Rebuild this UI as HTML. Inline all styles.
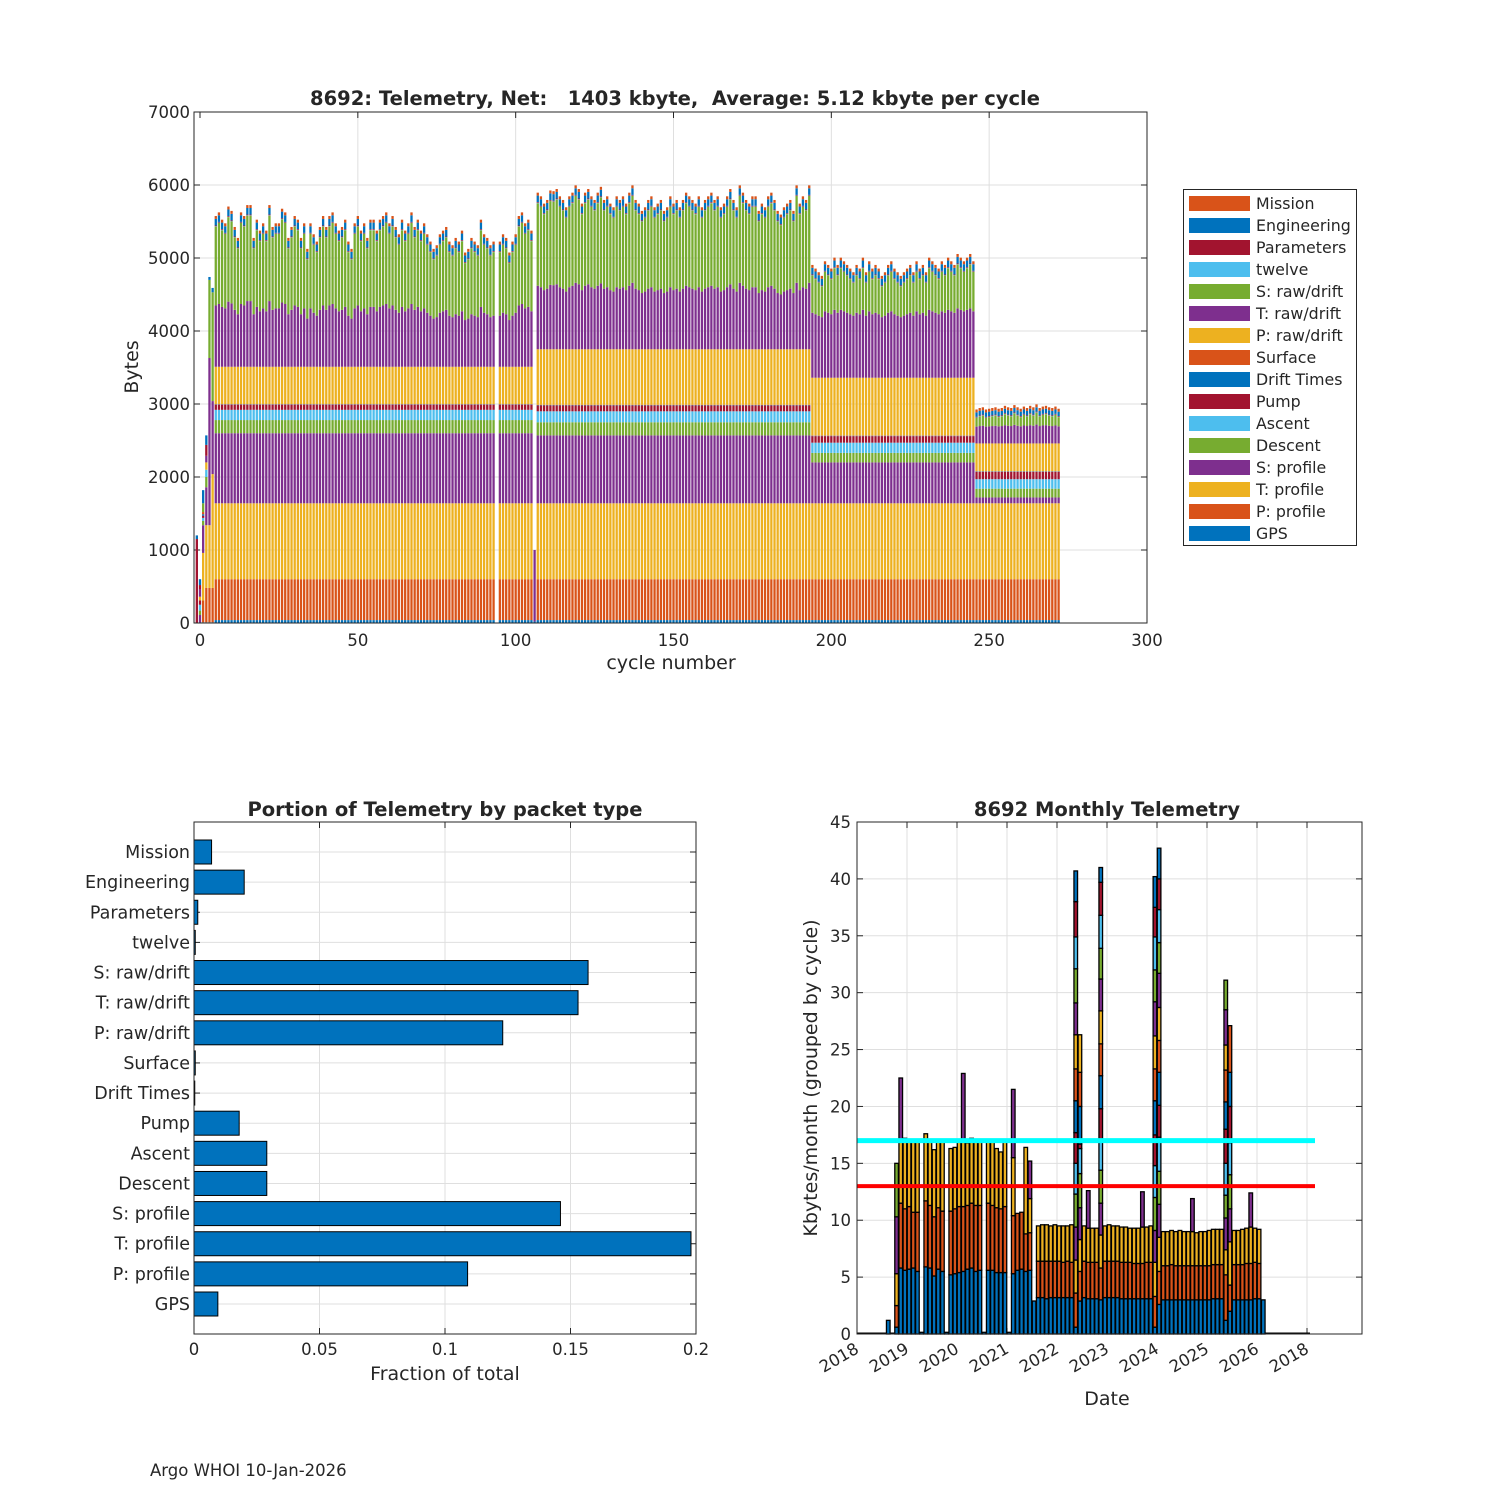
<!DOCTYPE html>
<html><head><meta charset="utf-8"><style>
html,body{margin:0;padding:0;background:#fff}
svg text{font-family:"DejaVu Sans","Liberation Sans",sans-serif;fill:#262626}
</style></head><body>
<svg id="s" width="1500" height="1500" viewBox="0 0 1500 1500" xmlns="http://www.w3.org/2000/svg">
<rect width="1500" height="1500" fill="#fff"/>
<g id="top"></g>
<g id="bl"></g>
<g id="br"></g>
<text x="150" y="1476" font-size="16.5">Argo WHOI 10-Jan-2026</text>
</svg>
<script>
// ---------- DATA ----------
const layerNames = ["GPS","P: profile","T: profile","S: profile","Descent","Ascent","Pump","Drift Times","Surface","P: raw/drift","T: raw/drift","S: raw/drift","twelve","Parameters","Engineering","Mission"];
const phaseStart = [5,107,194,246];
const phaseEnd = [106,193,245,272];
const phase1 = [40,560,1040,960,180,140,70,5,5,510,880,1140,5,10,90,40];
const phase2 = [40,560,1040,930,180,150,80,5,5,760,870,1130,5,10,90,40];
const phase3 = [40,560,1040,560,130,140,90,5,5,790,950,600,5,10,90,40];
const phase4 = [40,560,1040,80,120,130,100,5,5,380,250,150,5,10,60,40];
const earlyCycles = [-1,0,1,2,3,4];
const earlyStacks = [
 [0,0,0,0,0,0,0,0,0,0,0,0,0,1150,50,0],
 [10,0,0,100,60,80,60,0,0,50,100,0,0,60,80,0],
 [10,300,650,380,60,40,30,20,30,0,0,120,0,0,180,0],
 [10,470,860,520,140,100,0,0,0,100,90,0,0,150,130,0],
 [10,470,860,2290,0,0,0,0,0,0,0,1070,0,0,40,0],
 [10,470,1560,1000,0,0,0,0,0,0,0,1490,0,0,60,0]
];
const missingCycles = [94];
const specialCycle = 106;
const specialStack = [20,0,0,980,0,0,0,0,0,0,0,0,0,0,0,0];
// deviation of S/T raw per cycle (tens of bytes), cycles 5..272
const dev = [
-10,-5,-15,-20,3,-3,-25,-40,-5,-10,5,5,-40,-15,-30,-20,-30,5,-25,-20,
-20,0,-5,-40,-25,-10,-15,-40,-20,-55,-20,-35,-45,-25,-10,-25,-10,-5,-20,-30,
-25,-15,-45,-55,-20,-10,-30,-20,-40,-15,-15,-30,-15,-10,-5,-20,-10,-25,-35,-15,
-30,-20,-5,-25,-15,-30,-20,-35,-45,-55,-50,-35,-30,-25,-45,-50,-40,-45,-30,-60,
-55,-40,-45,-50,-15,-35,-40,-50,-45,0,-45,-35,-40,-60,-45,-35,-10,-5,-20,-15,
-30,0,
0,-5,-15,-10,3,2,5,-5,-10,-20,-5,0,10,5,-15,0,5,-5,-10,0,
8,-10,-5,-15,-20,-5,-10,-5,-15,0,10,-10,-15,-25,-20,-10,-5,-20,-15,-10,
-25,-20,-5,-15,-10,-20,-10,0,-5,-10,-15,-5,-20,-10,-5,0,-10,-5,-20,-15,
-5,5,-10,-20,10,0,-10,-15,-5,-5,-25,-15,-20,-5,0,-10,-25,-30,-20,-15,
-10,-25,10,-15,-5,-10,10,
-15,-20,-25,-30,-10,-15,-20,-5,-15,-5,-10,-15,-20,-25,-15,-20,-5,-25,-10,-20,
-15,-20,-30,-25,-15,-10,-20,-25,-30,-25,-20,-15,-25,-10,-20,-15,-25,-5,-10,-15,
-20,-10,-15,-5,-10,-15,0,-5,-10,-5,0,-10,
-5,-3,-2,-5,-4,-3,-2,-4,-3,0,-2,-3,1,-2,-4,-1,-3,0,-2,2,-3,-1,0,-2,-3,-1,-4];
const topYTicks = [0,1000,2000,3000,4000,5000,6000,7000];
const topXTicks = [0,50,100,150,200,250,300];

const fracCats = ["Mission","Engineering","Parameters","twelve","S: raw/drift","T: raw/drift","P: raw/drift","Surface","Drift Times","Pump","Ascent","Descent","S: profile","T: profile","P: profile","GPS"];
const fracVals = [0.007,0.020,0.0015,0.0005,0.157,0.153,0.123,0.0005,0.0003,0.018,0.029,0.029,0.146,0.198,0.109,0.0095];
const fracTicks = [0,0.05,0.1,0.15,0.2];
const fracTickLabels = ["0","0.05","0.1","0.15","0.2"];

const monthIdx = [];
const monthSegs = [];
const monthList = [
 [7,[1.2]],[9,[0.6,1.9,2.8,5.0,4.7]],[10,[5.8,5.7,5.5,5.5]],[11,[5.6,5.4,6.2]],[12,[5.7,5.5,5.8]],[13,[5.8,4.9,6.3]],[14,[5.5,5.2,6.3]],[15,[0.15]],
 [16,[5.9,5.8,5.9]],[17,[5.8,5.5,5.7]],[18,[5.1,5.2,5.9]],[19,[5.7,5.4,5.9]],[20,[5.5,5.3,6.2]],[21,[0.15]],
 [22,[5.2,5.6,5.5]],[23,[5.3,5.7,5.4]],[24,[5.4,5.8,5.8]],[25,[5.5,5.7,5.8,5.9]],[26,[5.7,5.6,5.5]],[27,[5.8,5.7,5.7]],[28,[5.5,5.8,5.7]],[29,[5.6,5.7,5.7]],[30,[0.15]],
 [31,[5.6,5.9,5.5]],[32,[5.6,5.7,5.7]],[33,[5.4,5.7,5.2]],[34,[5.4,5.6,5.0]],[35,[5.4,5.8,5.8]],[36,[0.15]],
 [37,[5.3,5.1,5.1,6.0]],[38,[5.6,5.0]],[39,[5.7,5.0]],[40,[5.5,3.3,7.6]],[41,[5.6,3.3,3.0,3.3]],[42,[2.9]],
 [43,[3.2,3.2,3.1]],[44,[3.2,3.2,3.2]],[45,[3.1,3.3,3.2]],[46,[3.2,3.2,3.1]],[47,[3.2,3.2,3.2]],[48,[3.2,3.2,3.1]],[49,[3.2,3.1,3.2]],[50,[3.2,3.2,3.1]],[51,[3.2,3.1,3.3]],
 [52,[0.6,3.0,2.9,2.9,2.9,2.7,2.7,2.8,2.8,3.0,2.8,3.0,2.8,3.1,2.7]],
 [53,[2.9,2.6,2.8,2.8,3.0,2.2,0.4,3.3,3.0,3.3]],
 [54,[3.2,3.2,3.1]],[55,[3.1,3.2,3.0,3.3]],[56,[3.1,3.2,3.0]],[57,[3.1,3.2,3.0]],
 [58,[3.0,2.8,2.9,2.8,2.9,2.7,2.7,2.9,2.8,2.9,2.8,2.7,2.9,2.9,1.3]],
 [59,[3.2,3.2,3.1]],[60,[3.2,3.2,3.2]],[61,[3.2,3.2,3.1]],[62,[3.2,3.2,3.1]],[63,[3.1,3.2,3.1]],[64,[3.1,3.2,3.1]],[65,[3.1,3.2,3.0]],[66,[3.1,3.1,3.1]],[67,[3.1,3.1,3.1]],
 [68,[3.1,3.1,3.2,3.1]],[69,[3.1,3.2,3.1]],[70,[3.1,3.2,3.2]],
 [71,[0.6,2.7,3.0,2.8,2.9,2.8,2.7,3.0,2.8,2.9,3.0,2.8,2.9,2.6,2.7]],
 [72,[2.6,2.9,3.0,2.9,2.9,3.0,2.8,2.9,2.8,2.9,3.0,2.7,2.9,2.7,2.7]],
 [73,[3.0,3.0,3.0]],[74,[3.0,3.0,3.0]],[75,[3.0,3.1,3.0]],[76,[3.0,3.0,3.0]],[77,[3.0,3.0,3.1]],[78,[3.0,3.0,3.0]],[79,[3.0,3.0,3.0]],[80,[3.0,3.0,3.0,2.9]],
 [81,[3.0,3.0,2.9]],[82,[3.0,3.0,3.0]],[83,[3.0,3.0,3.0]],[84,[3.0,3.0,3.1]],[85,[3.1,3.0,3.1]],[86,[3.1,3.0,3.1]],[87,[3.1,3.0,3.1]],
 [88,[1.2,4.0,2.2,2.8,2.0,2.8,3.0,2.4,2.8,2.2,3.1,2.6]],
 [89,[2.0,2.3,3.8,2.9,3.0,2.8,3.2,3.0,4.1]],
 [90,[3.0,3.1,3.0]],[91,[3.0,3.1,3.0]],[92,[3.0,3.1,3.1]],[93,[3.0,3.2,3.1]],[94,[3.0,3.2,3.2,3.0]],[95,[3.1,3.2,3.0]],[96,[3.1,3.1,3.0]],[97,[3.0]]
];
monthList.forEach(m=>{monthIdx.push(m[0]);monthSegs.push(m[1]);});
const monthYTicks = [0,5,10,15,20,25,30,35,40,45];
const yearTickLabels = ["2018","2019","2020","2021","2022","2023","2024","2025","2026","2018"];
const cyanLevel = 17, redLevel = 13;

// ---------- HELPERS ----------
const NS="http://www.w3.org/2000/svg";
const C=["#0072BD","#D95319","#EDB120","#7E2F8E","#77AC30","#4DBEEE","#A2142F"];
const TICK=16.5, LAB=19, TTL=19.5;
function mk(parent,tag,attrs,text){const e=document.createElementNS(NS,tag);for(const k in attrs)e.setAttribute(k,attrs[k]);if(text!==undefined)e.textContent=text;parent.appendChild(e);return e;}
function axesFrame(g,x0,y0,x1,y1){
  const r=mk(g,'rect',{x:x0,y:y0,width:x1-x0,height:y1-y0,fill:'none',stroke:'#262626','stroke-width':1});
  
  
}

// ---------- TOP CHART ----------
(function(){
  const g=document.getElementById('top');
  const L=194,R=1147,T=112,B=623;
  const sx=c=>200+c*(R-200)/300;
  const sy=v=>B-v*(B-T)/7000;
  topYTicks.forEach(t=>{
    const y=sy(t);
    if(t>0&&t<7000){const l=mk(g,'line',{x1:L,x2:R,y1:y,y2:y,stroke:'#dfdfdf','stroke-width':1});}
    const tx=mk(g,'text',{x:L-4,y:y+6,'font-size':TICK,'text-anchor':'end'},String(t));
    
    mk(g,'line',{x1:L,x2:L+6,y1:y,y2:y,stroke:'#262626'});mk(g,'line',{x1:R,x2:R-6,y1:y,y2:y,stroke:'#262626'});
  });
  topXTicks.forEach(t=>{
    const x=sx(t);
    if(t>0&&t<300){const l=mk(g,'line',{x1:x,x2:x,y1:T,y2:B,stroke:'#dfdfdf','stroke-width':1});}
    const tx=mk(g,'text',{x:x,y:B+23,'font-size':TICK,'text-anchor':'middle'},String(t));
    
    mk(g,'line',{x1:x,x2:x,y1:B,y2:B-6,stroke:'#262626'});mk(g,'line',{x1:x,x2:x,y1:T,y2:T+6,stroke:'#262626'});
  });
  const bw=2.3;
  const cycles=[],stacks=[];
  earlyCycles.forEach((c,i)=>{cycles.push(c);stacks.push(earlyStacks[i]);});
  const bases=[phase1,phase2,phase3,phase4];
  for(let c=5;c<=272;c++){
    if(missingCycles.includes(c))continue;
    if(c===specialCycle){cycles.push(c);stacks.push(specialStack);continue;}
    let p=0;for(let k=0;k<4;k++)if(c>=phaseStart[k]&&c<=phaseEnd[k])p=k;
    const s=bases[p].slice();const d=dev[c-5]||0;
    s[10]+=d*4;s[11]+=d*6;
    cycles.push(c);stacks.push(s);
  }
  cycles.forEach((c,i)=>{
    let acc=0;const x=sx(c)-bw/2;
    const bg=mk(g,'g',{});
    
    
    stacks[i].forEach((v,j)=>{
      if(v<=0)return;
      const y1=sy(acc+v),y0=sy(acc);
      mk(bg,'rect',{x:x,y:y1,width:bw,height:Math.max(0,y0-y1),fill:C[j%7]});
      acc+=v;
    });
  });
  axesFrame(g,L,T,R,B);
  const tt=mk(g,'text',{x:675,y:105,'font-size':TTL,'font-weight':'bold','text-anchor':'middle','xml:space':'preserve',style:'white-space:pre'},'8692: Telemetry, Net:   1403 kbyte,  Average: 5.12 kbyte per cycle');
  
  const yl=mk(g,'text',{x:0,y:0,'font-size':LAB,'text-anchor':'middle',transform:'translate(138,367) rotate(-90)'},'Bytes');
  
  const xl=mk(g,'text',{x:671,y:669,'font-size':LAB,'text-anchor':'middle'},'cycle number');
  
  // legend
  const lg=mk(g,'g',{});
  
  mk(lg,'rect',{x:1183.5,y:189.5,width:173,height:356,fill:'#fff',stroke:'#262626'});
  const order=layerNames.slice().reverse();
  order.forEach((n,i)=>{
    const j=layerNames.indexOf(n);
    const e=mk(lg,'g',{});
    
    
    const y=196+i*22;
    mk(e,'rect',{x:1189,y:y,width:61,height:15,fill:C[j%7]});
    mk(e,'text',{x:1256,y:y+13,'font-size':15.8},n);
  });
})();

// ---------- BOTTOM LEFT ----------
(function(){
  const g=document.getElementById('bl');
  const L=194,R=696,T=822,B=1334;
  const sx=v=>L+v*(R-L)/0.2;
  const step=(1304-852)/15;
  const sy=i=>852+i*step;
  fracTicks.forEach((t,i)=>{
    const x=sx(t);
    if(i>0&&i<fracTicks.length-1){const l=mk(g,'line',{x1:x,x2:x,y1:T,y2:B,stroke:'#dfdfdf'});}
    const tx=mk(g,'text',{x:x,y:B+21,'font-size':TICK,'text-anchor':'middle'},fracTickLabels[i]);
    
    mk(g,'line',{x1:x,x2:x,y1:B,y2:B-6,stroke:'#262626'});mk(g,'line',{x1:x,x2:x,y1:T,y2:T+6,stroke:'#262626'});
  });
  fracCats.forEach((c,i)=>{
    const y=sy(i);
    const l=mk(g,'line',{x1:L,x2:R,y1:y,y2:y,stroke:'#dfdfdf'});
    mk(g,'line',{x1:L,x2:L+6,y1:y,y2:y,stroke:'#262626'});mk(g,'line',{x1:R,x2:R-6,y1:y,y2:y,stroke:'#262626'});
    const tx=mk(g,'text',{x:L-4,y:y+6,'font-size':17.5,'text-anchor':'end'},c);
    
  });
  fracCats.forEach((c,i)=>{
    const y=sy(i);
    const b=mk(g,'rect',{x:L,y:y-12,width:Math.max(0.5,sx(fracVals[i])-L),height:24,fill:'#0072BD',stroke:'#000','stroke-width':1});
    
    
  });
  axesFrame(g,L,T,R,B);
  const tt=mk(g,'text',{x:445,y:816,'font-size':TTL,'font-weight':'bold','text-anchor':'middle'},'Portion of Telemetry by packet type');
  
  const xl=mk(g,'text',{x:445,y:1380,'font-size':LAB,'text-anchor':'middle'},'Fraction of total');
  
})();

// ---------- BOTTOM RIGHT ----------
(function(){
  const g=document.getElementById('br');
  const L=857,R=1362,T=822,B=1334;
  const mw=50/12;
  const sx=m=>L+(m+0.5)*mw;
  const sy=v=>B-v*(B-T)/45;
  monthYTicks.forEach(t=>{
    const y=sy(t);
    if(t>0&&t<45){const l=mk(g,'line',{x1:L,x2:R,y1:y,y2:y,stroke:'#dfdfdf'});}
    const tx=mk(g,'text',{x:L-6,y:y+6,'font-size':TICK,'text-anchor':'end'},String(t));
    
    mk(g,'line',{x1:L,x2:L+6,y1:y,y2:y,stroke:'#262626'});mk(g,'line',{x1:R,x2:R-6,y1:y,y2:y,stroke:'#262626'});
  });
  yearTickLabels.forEach((lab,i)=>{
    const x=L+i*50;
    if(i>0){const l=mk(g,'line',{x1:x,x2:x,y1:T,y2:B,stroke:'#dfdfdf'});}
    mk(g,'line',{x1:x,x2:x,y1:B,y2:B-6,stroke:'#262626'});mk(g,'line',{x1:x,x2:x,y1:T,y2:T+6,stroke:'#262626'});
    const tx=mk(g,'text',{x:0,y:0,'font-size':TICK,'text-anchor':'end',transform:`translate(${x+3},${B+18}) rotate(-30)`},lab);
    
  });
  const base=mk(g,'line',{x1:L,x2:1310,y1:B-0.5,y2:B-0.5,stroke:'#000','stroke-width':2});
  
  const bw=3.6;
  monthIdx.forEach((m,i)=>{
    const bg=mk(g,'g',{});
    
    
    let acc=0;
    monthSegs[i].forEach((v,j)=>{
      const y1=sy(acc+v),y0=sy(acc);
      mk(bg,'rect',{x:sx(m)-bw/2,y:y1,width:bw,height:y0-y1,fill:C[j%7],stroke:'#000','stroke-width':1.3});
      acc+=v;
    });
  });
  const cl=mk(g,'line',{x1:L,x2:1315,y1:sy(cyanLevel),y2:sy(cyanLevel),stroke:'#00FFFF','stroke-width':5});
  
  const rl=mk(g,'line',{x1:L,x2:1315,y1:sy(redLevel),y2:sy(redLevel),stroke:'#FF0000','stroke-width':4});
  
  axesFrame(g,L,T,R,B);
  const tt=mk(g,'text',{x:1107,y:816,'font-size':TTL,'font-weight':'bold','text-anchor':'middle'},'8692 Monthly Telemetry');
  
  const yl=mk(g,'text',{x:0,y:0,'font-size':LAB,'text-anchor':'middle',transform:'translate(817,1078) rotate(-90)'},'Kbytes/month (grouped by cycle)');
  
  const xl=mk(g,'text',{x:1107,y:1405,'font-size':LAB,'text-anchor':'middle'},'Date');
  
})();
</script>
</body></html>
